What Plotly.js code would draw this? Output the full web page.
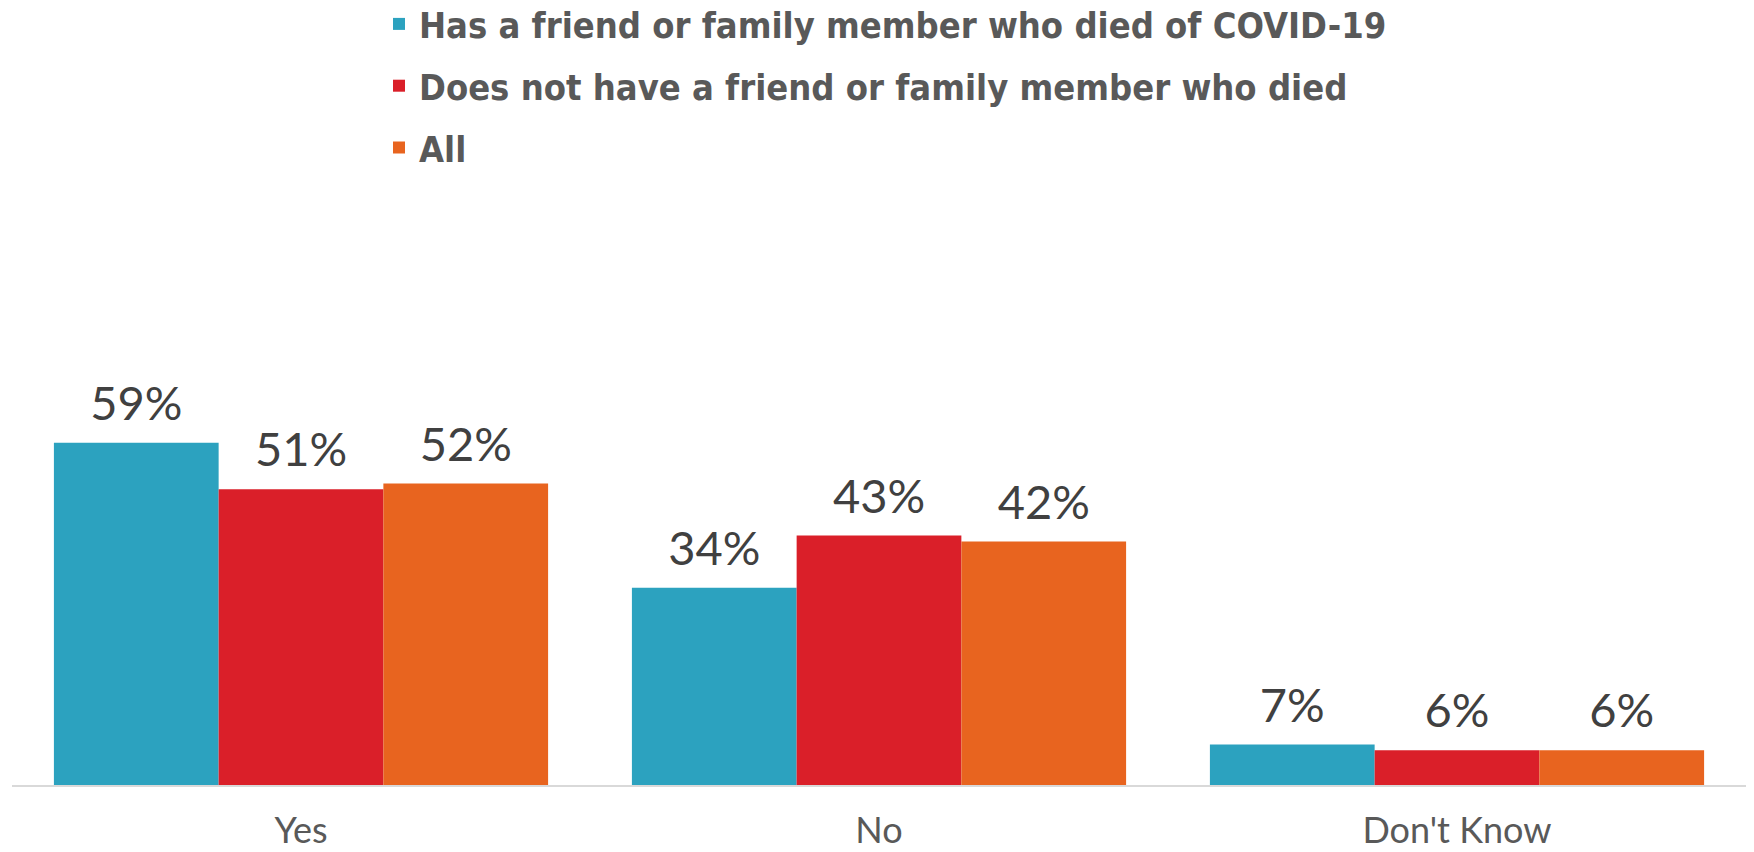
<!DOCTYPE html>
<html>
<head>
<meta charset="utf-8">
<script src="https://cdn.plot.ly/plotly-3.0.1.min.js"></script>
<style>html,body{margin:0;padding:0;background:#fff;}#chart{width:1754px;height:852px;}</style>
</head>
<body>
<div id="chart"></div>
<script>
const categories = ["Yes", "No", "Don't Know"];
const seriesNames = [
  "Has a friend or family member who died of COVID-19",
  "Does not have a friend or family member who died",
  "All"
];
const hasFriendDied = [59, 34, 7];
const noFriendDied = [51, 43, 6];
const allRespondents = [52, 42, 6];
const seriesColors = ["#2CA2BF", "#DA1F29", "#E8641F"];

const seriesValues = [hasFriendDied, noFriendDied, allRespondents];

const barTraces = seriesValues.map((vals, i) => ({
  type: 'bar',
  name: seriesNames[i],
  x: categories,
  y: vals,
  marker: {color: seriesColors[i]},
  legendgroup: 'g' + i,
  hoverinfo: 'skip'
}));

const labelTraces = seriesValues.map((vals, i) => ({
  type: 'scatter',
  mode: 'markers+text',
  x: categories,
  y: vals,
  text: vals.map(v => v + '%'),
  textposition: 'top center',
  textfont: {family: 'Lato, "Open Sans", sans-serif', size: 47, color: '#404040'},
  marker: {size: 16, opacity: 0, color: seriesColors[i]},
  showlegend: false,
  hoverinfo: 'skip',
  cliponaxis: false
}));

const layout = {
  width: 1754,
  height: 852,
  margin: {l: 12, r: 8, t: 205, b: 67, autoexpand: false},
  paper_bgcolor: '#ffffff',
  plot_bgcolor: '#ffffff',
  barmode: 'group',
  bargap: 0.145,
  bargroupgap: 0,
  scattermode: 'group',
  scattergap: 0.145,
  showlegend: true,
  legend: {
    orientation: 'v',
    xref: 'container',
    yref: 'paper',
    x: 379 / 1754,
    xanchor: 'left',
    y: 1 + 211 / 580,
    yanchor: 'top',
    traceorder: 'grouped',
    tracegroupgap: 12,
    font: {family: '"DejaVu Sans Condensed", "Liberation Sans Narrow", "Liberation Sans", sans-serif', size: 36, color: '#595959', weight: 'bold'},
    bgcolor: 'rgba(0,0,0,0)'
  },
  xaxis: {
    type: 'category',
    showgrid: false,
    showline: true,
    linecolor: '#D9D9D9',
    linewidth: 2,
    ticks: '',
    ticklabelstandoff: 13,
    tickfont: {family: 'Lato, "Open Sans", sans-serif', size: 36, color: '#595959'},
    zeroline: false,
    fixedrange: true
  },
  yaxis: {
    range: [0, 100],
    showgrid: false,
    showline: false,
    showticklabels: false,
    zeroline: false,
    ticks: '',
    fixedrange: true
  }
};

Plotly.newPlot('chart', barTraces.concat(labelTraces), layout, {displayModeBar: false, staticPlot: true});
</script>
</body>
</html>
